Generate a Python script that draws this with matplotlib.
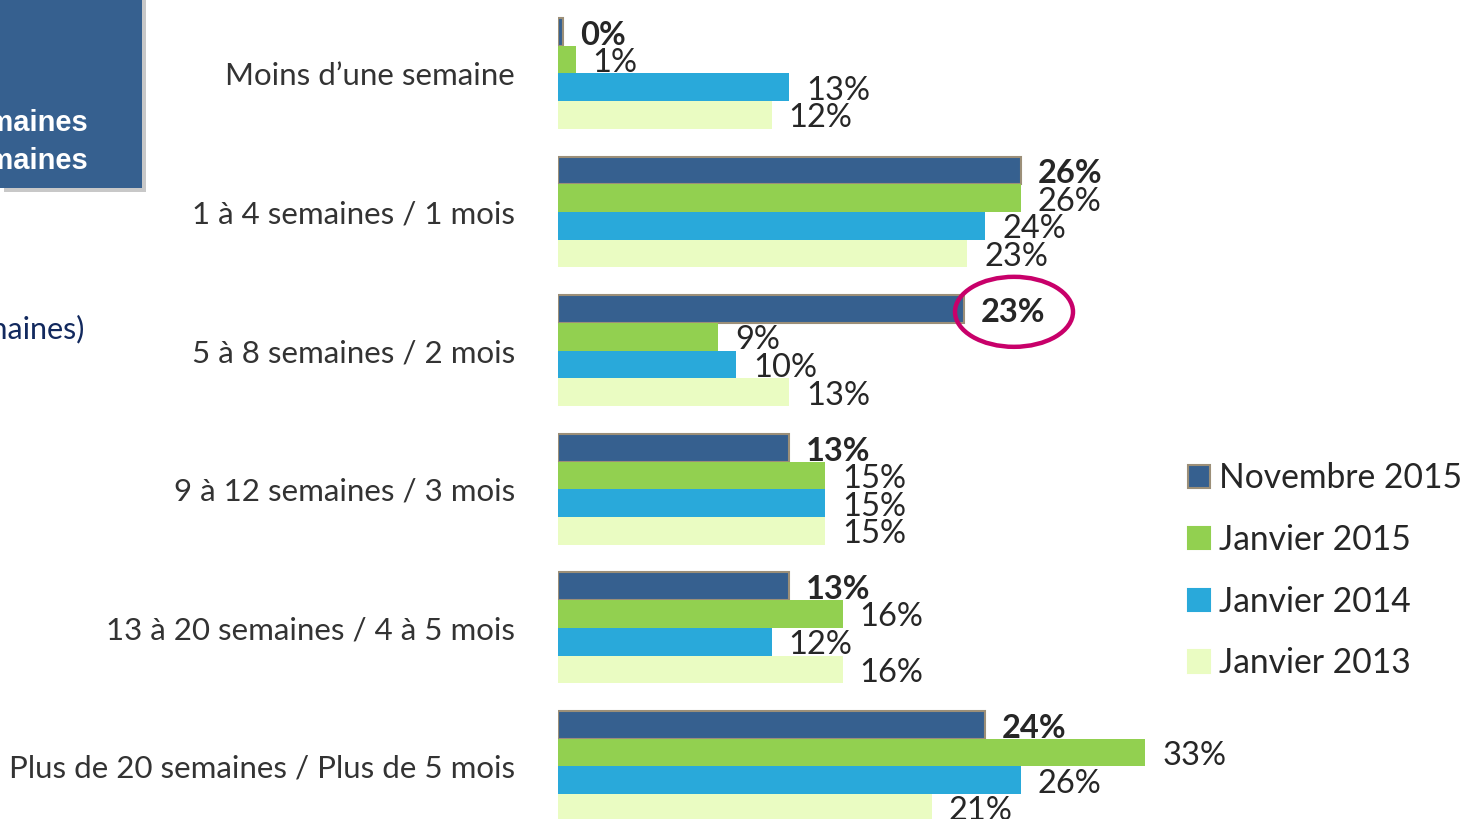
import matplotlib
matplotlib.use("Agg")
import matplotlib.pyplot as plt
from matplotlib.patches import Ellipse, Rectangle
import numpy as np

plt.rcParams['font.family'] = ['Lato', 'DejaVu Sans']

categories = ["Moins d\u2019une semaine", "1 \u00e0 4 semaines / 1 mois", "5 \u00e0 8 semaines / 2 mois",
              "9 \u00e0 12 semaines / 3 mois", "13 \u00e0 20 semaines / 4 \u00e0 5 mois",
              "Plus de 20 semaines / Plus de 5 mois"]
series_names = ["Novembre 2015", "Janvier 2015", "Janvier 2014", "Janvier 2013"]
nov2015 = [0.3, 26, 22.8, 13, 13, 24]
jan2015 = [1, 26, 9, 15, 16, 33]
jan2014 = [13, 24, 10, 15, 12, 26]
jan2013 = [12, 23, 13, 15, 16, 21]
series = [nov2015, jan2015, jan2014, jan2013]
colors = ["#36608f", "#92d050", "#29a9da", "#eafcc2"]

W, H = 1467, 819
fig = plt.figure(figsize=(W / 100, H / 100), dpi=100)
ax = fig.add_axes([558 / W, 0, (W - 558) / W, 1])
px_per_pct = 17.8
ax.set_xlim(0, (W - 558) / px_per_pct)
y_top = -0.4 - 18 / 138.6
y_bot = y_top + H / 138.6
ax.set_ylim(y_bot, y_top)

bh = 0.2
n = len(categories)
idx = np.arange(n)
for j, (vals, col) in enumerate(zip(series, colors)):
    ypos = idx - 0.4 + bh * j + bh / 2
    if j == 0:
        ax.barh(ypos, vals, height=bh, color=col, edgecolor="#9c8f78", linewidth=1.5, zorder=3)
    else:
        ax.barh(ypos, vals, height=bh, color=col, edgecolor="none", zorder=3)
    for y, v in zip(ypos, vals):
        ax.text(v + 0.95, y + 0.025, f"{round(v)}%", va="center", ha="left",
                fontsize=23.5, color="#262626", fontweight="bold" if j == 0 else "normal")

ax.set_yticks(idx)
ax.set_yticklabels(categories, fontsize=22.5, color="#333333")
ax.tick_params(axis="y", length=0, pad=31)
ax.tick_params(axis="x", bottom=False, labelbottom=False)
for s in ax.spines.values():
    s.set_visible(False)

# highlight ellipse around the 23% label
ax.add_patch(Ellipse((1014 / px_per_pct - 558 / px_per_pct, 2 - 0.3 + 0.02), width=118 / px_per_pct,
                     height=70 / 138.6, fill=False, edgecolor="#c8006a", linewidth=3.2, zorder=4,
                     clip_on=False))

# legend
handles = [Rectangle((0, 0), 1, 1, facecolor=c, edgecolor="#9c8f78" if i == 0 else c, linewidth=1.5)
           for i, c in enumerate(colors)]
fig.legend(handles, series_names, loc="upper left", bbox_to_anchor=(1175 / W, 1 - 449 / H),
           frameon=False, fontsize=24.2, handlelength=0.65, handleheight=0.65, handletextpad=0.25,
           labelspacing=0.88, labelcolor="#262626", borderaxespad=0)

# fragments of the slide at the left
fig.patches.append(Rectangle((4 / W, 1 - 192 / H), 142 / W, 192 / H, transform=fig.transFigure,
                             facecolor="#c8c8c8", edgecolor="none", zorder=1))
fig.patches.append(Rectangle((0, 1 - 188 / H), 142 / W, 188 / H, transform=fig.transFigure,
                             facecolor="#36608f", edgecolor="none", zorder=2))
fig.text(89 / W, 1 - 123 / H, "semaines", ha="right", va="center", fontsize=21, color="white",
         fontweight="bold", family="Liberation Sans", zorder=5)
fig.text(89 / W, 1 - 161 / H, "semaines", ha="right", va="center", fontsize=21, color="white",
         fontweight="bold", family="Liberation Sans", zorder=5)
fig.text(85 / W, 1 - 329 / H, "(semaines)", ha="right", va="center", fontsize=22, color="#12295e",
         zorder=5)

fig.savefig("out.png", dpi=100)
